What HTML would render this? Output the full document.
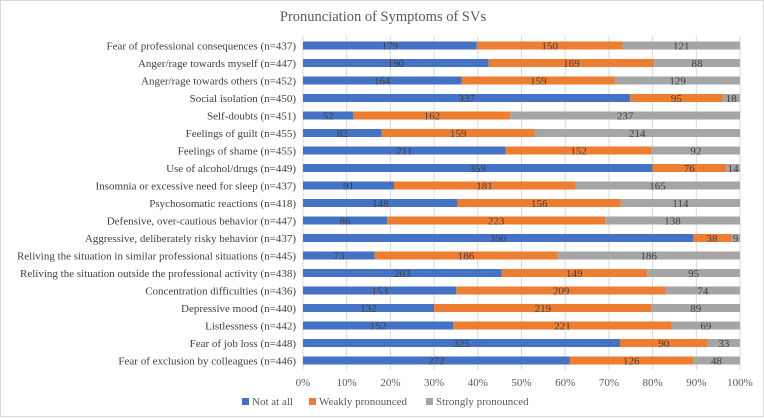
<!DOCTYPE html>
<html><head><meta charset="utf-8"><style>
body{margin:0;background:#fff;}
svg{display:block;font-family:"Liberation Serif",serif;}
</style></head><body>
<svg id="c" width="764" height="418">
<rect x="0.5" y="0.5" width="763" height="416" fill="#fff" stroke="#d9d9d9"/>
<text x="383" y="21" font-size="14.5" fill="#595959" text-anchor="middle">Pronunciation of Symptoms of SVs</text>
<g id="grid"></g><g id="bars"></g><g id="ylab"></g><g id="xlab"></g>
<g font-size="11" fill="#595959">
<rect x="242" y="398" width="7" height="7" fill="#4472c4"/>
<text x="252" y="405">Not at all</text>
<rect x="309" y="398" width="7" height="7" fill="#ed7d31"/>
<text x="319" y="405">Weakly pronounced</text>
<rect x="426" y="398" width="7" height="7" fill="#a5a5a5"/>
<text x="436" y="405">Strongly pronounced</text>
</g>
</svg>
<script>
const categories=["Fear of professional consequences (n=437)","Anger/rage towards myself (n=447)","Anger/rage towards others (n=452)","Social isolation (n=450)","Self-doubts (n=451)","Feelings of guilt (n=455)","Feelings of shame (n=455)","Use of alcohol/drugs (n=449)","Insomnia or excessive need for sleep (n=437)","Psychosomatic reactions (n=418)","Defensive, over-cautious behavior (n=447)","Aggressive, deliberately risky behavior (n=437)","Reliving the situation in similar professional situations (n=445)","Reliving the situation outside the professional activity (n=438)","Concentration difficulties (n=436)","Depressive mood (n=440)","Listlessness (n=442)","Fear of job loss (n=448)","Fear of exclusion by colleagues (n=446)"];
const notAtAll=[179,190,164,337,52,82,211,359,91,148,86,390,73,203,153,132,152,325,272];
const weakly=[150,169,159,95,162,159,152,76,181,156,223,38,186,149,209,219,221,90,126];
const strongly=[121,88,129,18,237,214,92,14,165,114,138,9,186,95,74,89,69,33,48];
const ticks=["0%","10%","20%","30%","40%","50%","60%","70%","80%","90%","100%"];
const NS="http://www.w3.org/2000/svg";
const X0=303,X1=740,Y0=45.5,STEP=17.5,BH=8;
const xs=p=>X0+(X1-X0)*p;
const ys=i=>Y0+i*STEP;
function mk(t,a,parent){const e=document.createElementNS(NS,t);for(const k in a)e.setAttribute(k,a[k]);document.getElementById(parent).appendChild(e);return e;}
ticks.forEach((t,i)=>{
  const x=xs(i/10);
  const g=mk("line",{x1:x,x2:x,y1:36,y2:370,stroke:"#d9d9d9","stroke-width":1},"grid");
  
  
  const l=mk("text",{x:x,y:386,"font-size":11,fill:"#595959","text-anchor":"middle"},"xlab");
  l.textContent=t;
  
  
});
const series=[notAtAll,weakly,strongly],cols=["#4472c4","#ed7d31","#a5a5a5"],names=["not-at-all","weakly","strongly"];
categories.forEach((c,i)=>{
  const tot=notAtAll[i]+weakly[i]+strongly[i];
  const y=ys(i);
  const lab=mk("text",{x:296,y:y+4,"font-size":11,fill:"#404040","text-anchor":"end"},"ylab");
  lab.textContent=c;
  
  
  let acc=0;
  series.forEach((s,k)=>{
    const a=xs(acc/tot),b=xs((acc+s[i])/tot);
    const r=mk("rect",{x:a,y:y-BH/2,width:b-a,height:BH,fill:cols[k]},"bars");
    
    
    const t=mk("text",{x:(a+b)/2,y:y+4,"font-size":11,fill:"#404040","text-anchor":"middle"},"bars");
    t.textContent=s[i];
    
    
    acc+=s[i];
  });
});
</script>
</body></html>
